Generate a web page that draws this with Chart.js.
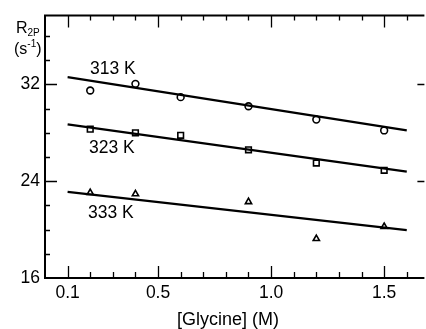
<!DOCTYPE html>
<html>
<head>
<meta charset="utf-8">
<script src="https://cdn.jsdelivr.net/npm/chart.js@4.4.1/dist/chart.umd.min.js"></script>
<style>
  html, body { margin: 0; padding: 0; background: #fff; overflow: hidden; }
  #wrap { width: 430px; height: 329px; position: relative; }
</style>
</head>
<body>
<div id="wrap"><canvas id="c" width="430" height="329"></canvas></div>
<script>
// ---- data ----
const glycine = [0.2, 0.4, 0.6, 0.9, 1.2, 1.5];           // [Glycine] (M)
const r313 = [31.5, 32.05, 30.95, 30.2, 29.1, 28.2];       // 313 K, circles
const r323 = [28.3, 28.0, 27.8, 26.6, 25.5, 24.9];         // 323 K, squares
const glycine333 = [0.2, 0.4, 0.9, 1.2, 1.5];
const r333 = [23.05, 22.95, 22.3, 19.25, 20.25];           // 333 K, triangles
const fitX = [0.1, 1.6];
const fit313 = [32.6, 28.2];
const fit323 = [28.7, 24.8];
const fit333 = [23.12, 19.96];
const seriesLabels = ['313 K', '323 K', '333 K'];
const xTickLabels = [0.1, 0.5, 1.0, 1.5];
const yTickLabels = [16, 24, 32];
const xMinorTicks = [0.1,0.2,0.3,0.4,0.5,0.6,0.7,0.8,0.9,1.0,1.1,1.2,1.3,1.4,1.5,1.6];
const yMinorTicks = [18,20,22,24,26,28,30,32,34,36];

const pts = (xs, ys) => xs.map((x, i) => ({x: x, y: ys[i]}));

const FONT = "'Liberation Sans', Arial, sans-serif";

const marker = (data, style, r) => ({
  data: data, showLine: false, pointStyle: style, pointRadius: r,
  pointBackgroundColor: '#fff', pointBorderColor: '#000', pointBorderWidth: 1.6
});
const fitLine = (data) => ({
  data: data, showLine: true, pointRadius: 0, borderColor: '#000', borderWidth: 2.2, fill: false
});

const frame = {
  id: 'frame',
  afterDraw(chart) {
    const ctx = chart.ctx, a = chart.chartArea;
    const xs = chart.scales.x, ys = chart.scales.y;
    ctx.save();
    ctx.strokeStyle = '#000';
    ctx.lineWidth = 2;
    ctx.beginPath();
    ctx.moveTo(a.left, a.top); ctx.lineTo(a.left, a.bottom);
    ctx.moveTo(a.left - 1, a.bottom); ctx.lineTo(a.right, a.bottom);
    ctx.moveTo(a.left - 1, a.top); ctx.lineTo(a.right, a.top);
    ctx.stroke();
    ctx.lineWidth = 1.3;
    ctx.beginPath();
    xMinorTicks.forEach(v => {
      const px = Math.round(xs.getPixelForValue(v)) + 0.5;
      const major = xTickLabels.some(t => Math.abs(t - v) < 1e-9);
      const len = major ? 12 : 6;
      ctx.moveTo(px, a.bottom); ctx.lineTo(px, a.bottom - len);
      ctx.moveTo(px, a.top); ctx.lineTo(px, a.top + (major ? 12 : 5));
    });
    yMinorTicks.forEach(v => {
      const py = Math.round(ys.getPixelForValue(v)) + 0.5;
      const major = yTickLabels.includes(v);
      ctx.moveTo(a.left, py); ctx.lineTo(a.left + (major ? 12 : 5), py);
      if (major) { ctx.moveTo(a.right, py); ctx.lineTo(a.right - 7, py); }
    });
    ctx.stroke();

    // series labels
    ctx.fillStyle = '#000';
    ctx.textBaseline = 'alphabetic';
    ctx.textAlign = 'left';
    ctx.font = '17.5px ' + FONT;
    ctx.fillText(seriesLabels[0], 90, 74);
    ctx.fillText(seriesLabels[1], 89, 153);
    ctx.fillText(seriesLabels[2], 88, 218);

    // y axis title
    ctx.font = '16px ' + FONT;
    ctx.fillText('R', 16, 33);
    let wr = ctx.measureText('R').width;
    ctx.font = '10px ' + FONT;
    ctx.fillText('2P', 16 + wr, 36);
    ctx.font = '16px ' + FONT;
    ctx.fillText('(s', 14, 54);
    let w = ctx.measureText('(s').width;
    ctx.font = '10px ' + FONT;
    ctx.fillText('-1', 14 + w, 47);
    let w2 = ctx.measureText('-1').width;
    ctx.font = '16px ' + FONT;
    ctx.fillText(')', 14 + w + w2, 54);

    // x axis title
    ctx.font = '18px ' + FONT;
    ctx.textAlign = 'center';
    ctx.fillText('[Glycine] (M)', 228, 325);
    ctx.restore();
  }
};

new Chart(document.getElementById('c'), {
  type: 'scatter',
  data: {
    datasets: [
      fitLine(pts(fitX, fit313)),
      fitLine(pts(fitX, fit323)),
      fitLine(pts(fitX, fit333)),
      marker(pts(glycine, r313), 'circle', 3.4),
      marker(pts(glycine, r323), 'rect', 4.0),
      marker(pts(glycine333, r333), 'triangle', 3.6)
    ]
  },
  options: {
    responsive: false,
    animation: false,
    devicePixelRatio: 1,
    layout: { padding: { top: 15, right: 3, left: 0, bottom: 0 } },
    plugins: { legend: { display: false }, tooltip: { enabled: false } },
    scales: {
      x: {
        type: 'linear', min: 0, max: 1.678,
        grid: { display: false, drawTicks: false },
        border: { display: false },
        afterBuildTicks: s => { s.ticks = xTickLabels.map(v => ({value: v})); },
        afterFit: s => { s.height = 51; },
        ticks: {
          color: '#000', padding: 5, maxRotation: 0, autoSkip: false,
          font: { family: FONT, size: 17.5 },
          callback: v => v.toFixed(1)
        }
      },
      y: {
        type: 'linear', min: 16, max: 37.7,
        grid: { display: false, drawTicks: false },
        border: { display: false },
        afterBuildTicks: s => { s.ticks = yTickLabels.map(v => ({value: v})); },
        afterFit: s => { s.width = 45; },
        ticks: {
          color: '#000', padding: 5, autoSkip: false,
          font: { family: FONT, size: 17.5 },
          callback: v => String(v)
        }
      }
    }
  },
  plugins: [frame]
});
</script>
</body>
</html>
